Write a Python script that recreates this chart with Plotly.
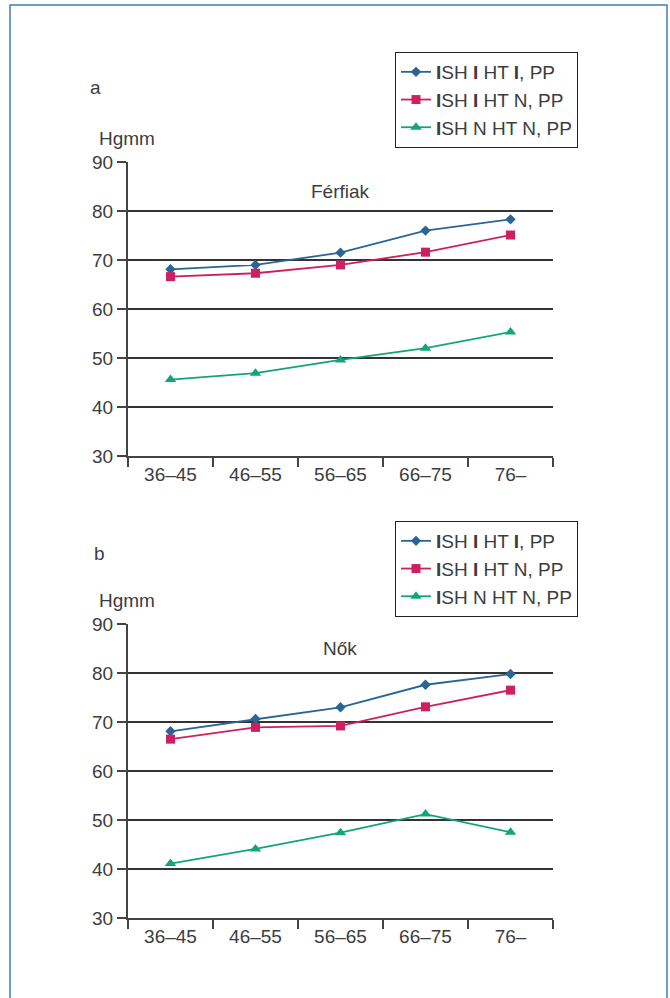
import plotly.graph_objects as go

categories = ["36–45", "46–55", "56–65", "66–75", "76–"]
series_names = ["<b>I</b>SH <b>I</b> HT <b>I</b>, PP", "<b>I</b>SH <b>I</b> HT N, PP", "<b>I</b>SH N HT N, PP"]

# Férfiak (panel a)
men_ihi = [68.1, 69.0, 71.5, 76.0, 78.3]
men_ihn = [66.6, 67.3, 69.0, 71.6, 75.1]
men_nhn = [45.6, 46.9, 49.6, 52.0, 55.3]

# Nők (panel b)
women_ihi = [68.1, 70.6, 73.0, 77.6, 79.8]
women_ihn = [66.5, 68.9, 69.2, 73.1, 76.5]
women_nhn = [41.1, 44.1, 47.4, 51.2, 47.5]

y_ticks = [30, 40, 50, 60, 70, 80, 90]

colors = ["#2b6594", "#cc2060", "#12a47a"]
symbols = ["diamond", "square", "triangle-up"]
msizes = [8, 9, 10]

W, H = 670, 998
FONT = "Liberation Sans"
TXT = "#3d3d3d"
FS = 19

def px(x):
    return x / W

def py(y):
    return 1 - y / H

fig = go.Figure()

panels = [
    (["x", "y"], [men_ihi, men_ihn, men_nhn], "legend"),
    (["x2", "y2"], [women_ihi, women_ihn, women_nhn], "legend2"),
]
for (xa, ya), data, leg in panels:
    for i, vals in enumerate(data):
        fig.add_trace(go.Scatter(
            x=categories, y=vals, xaxis=xa, yaxis=ya,
            mode="lines+markers", name=series_names[i], legend=leg,
            line=dict(color=colors[i], width=1.8),
            marker=dict(symbol=symbols[i], size=msizes[i], color=colors[i]),
        ))

xdomain = [px(128), px(553)]
common_x = dict(
    type="category", categoryorder="array", categoryarray=categories,
    range=[-0.5, 4.5], tickson="boundaries", ticks="outside", ticklen=9,
    tickwidth=2, tickcolor="#444", showline=True, linecolor="#444", linewidth=2,
    showgrid=False, zeroline=False, tickfont=dict(size=FS, color=TXT, family=FONT),
    domain=xdomain, fixedrange=True, automargin=False,
)
common_y = dict(
    range=[30, 90], tickvals=y_ticks, ticks="outside", ticklen=9, tickwidth=2,
    tickcolor="#444", showline=True, linecolor="#444", linewidth=2,
    showgrid=True, gridcolor="#333", gridwidth=1.5, zeroline=False,
    tickfont=dict(size=FS, color=TXT, family=FONT), fixedrange=True, automargin=False,
)

legend_common = dict(
    xanchor="left", yanchor="top", bgcolor="white", bordercolor="#222",
    borderwidth=1, font=dict(size=FS, color=TXT, family=FONT),
    tracegroupgap=0, itemwidth=30,
)

fig.update_layout(
    width=W, height=H, margin=dict(l=0, r=0, t=0, b=0, pad=0, autoexpand=False),
    paper_bgcolor="white", plot_bgcolor="white",
    font=dict(family=FONT, color=TXT),
    xaxis=dict(common_x, anchor="y"),
    yaxis=dict(common_y, domain=[py(456), py(162)], anchor="x"),
    xaxis2=dict(common_x, anchor="y2"),
    yaxis2=dict(common_y, domain=[py(918), py(624)], anchor="x2"),
    legend=dict(legend_common, x=px(395), y=py(52)),
    legend2=dict(legend_common, x=px(395), y=py(521)),
    showlegend=True,
)

annos = [
    ("a", 88, 88, FS), ("Hgmm", 97, 138, 19), ("Férfiak", 340, 192, FS),
    ("b", 92, 553, FS), ("Hgmm", 97, 600, 19), ("Nők", 340, 648, FS),
]
for text, x, y, fs in annos:
    fig.add_annotation(
        text=text, x=px(x), y=py(y), xref="paper", yref="paper",
        xanchor="left" if text in ("a", "b", "Hgmm") else "center", yanchor="middle",
        showarrow=False, font=dict(size=fs, color=TXT, family=FONT),
    )

fig.add_shape(
    type="rect", xref="paper", yref="paper",
    x0=px(10), x1=px(667), y0=py(1010), y1=py(5),
    line=dict(color="#3f7fae", width=1.5), layer="below",
)

post = (
    "document.documentElement.style.overflow='hidden';"
    "document.body.style.margin='0';document.body.style.overflow='hidden';"
    "var d=document.getElementById('{plot_id}');"
    "d.style.position='fixed';d.style.top='0px';d.style.left='0px';"
)

fig.write_html("out.html", config={"displayModeBar": False}, post_script=post)
